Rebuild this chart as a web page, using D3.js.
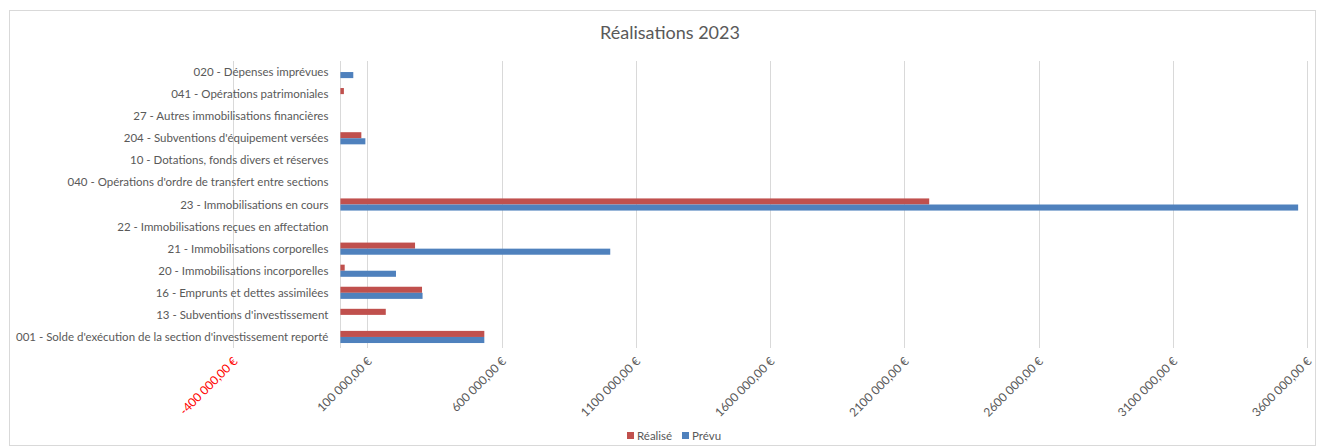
<!DOCTYPE html>
<html>
<head>
<meta charset="utf-8">
<script src="https://cdn.jsdelivr.net/npm/d3@7"></script>
<style>
  body { margin: 0; background: #fff; }
  #chart { width: 1324px; height: 447px; }
  text { font-family: Lato, "Open Sans", sans-serif; }
</style>
</head>
<body>
<div id="chart"></div>
<script>
// categories top to bottom
const categories = [
    "020 - Dépenses imprévues",
    "041 - Opérations patrimoniales",
    "27 - Autres immobilisations financières",
    "204 - Subventions d'équipement versées",
    "10 - Dotations, fonds divers et réserves",
    "040 - Opérations d'ordre de transfert entre sections",
    "23 - Immobilisations en cours",
    "22 - Immobilisations reçues en affectation",
    "21 - Immobilisations corporelles",
    "20 - Immobilisations incorporelles",
    "16 - Emprunts et dettes assimilées",
    "13 - Subventions d'investissement",
    "001 - Solde d'exécution de la section d'investissement reporté"
];
const realise = [0, 13000, 0, 78000, 0, 0, 2193000, 0, 278000, 16000, 304000, 169000, 536000];
const prevu   = [48000, 0, 0, 93000, 0, 0, 3567000, 0, 1005000, 207000, 306000, 0, 536000];
const seriesNames = ["Réalisé", "Prévu"];
const seriesColors = ["#C0504D", "#4F81BD"];
const tickValues = [-400000, 100000, 600000, 1100000, 1600000, 2100000, 2600000, 3100000, 3600000];

const W = 1324, H = 447;
const plot = { left: 233, right: 1307, top: 61, bottom: 348 };

const svg = d3.select('#chart')
    .append('svg')
    .attr('width', W)
    .attr('height', H);

// chart frame
svg.append('rect')
    .attr('x', 9.5).attr('y', 10.5)
    .attr('width', 1306).attr('height', 435)
    .attr('fill', '#fff')
    .attr('stroke', '#d9d9d9');

svg.append('text')
    .attr('x', 670).attr('y', 39)
    .attr('text-anchor', 'middle')
    .attr('font-size', 18)
    .attr('fill', '#595959')
    .text('Réalisations 2023');

const x = d3.scaleLinear()
    .domain([-400000, 3600000])
    .range([plot.left, plot.right]);

const y = d3.scaleBand()
    .domain(categories)
    .range([plot.top, plot.bottom])
    .paddingInner(0.45)
    .paddingOuter(0.225);

const ySub = d3.scaleBand()
    .domain(seriesNames)
    .range([0, y.bandwidth()]);

// gridlines
const grid = svg.append('g')
    .attr('transform', `translate(0,${plot.bottom})`)
    .call(d3.axisBottom(x).tickValues(tickValues).tickSize(-(plot.bottom - plot.top)).tickFormat(''));
grid.select('.domain').remove();
grid.selectAll('line').attr('stroke', '#d9d9d9').attr('shape-rendering', 'crispEdges');

// category axis line at zero
svg.append('line')
    .attr('x1', Math.round(x(0)) + 0.5).attr('x2', Math.round(x(0)) + 0.5)
    .attr('y1', plot.top).attr('y2', plot.bottom)
    .attr('stroke', '#d9d9d9');

// bars
const rows = categories.map((c, i) => ({ cat: c, values: [realise[i], prevu[i]] }));
const groups = svg.append('g')
    .selectAll('g')
    .data(rows)
    .enter()
    .append('g')
    .attr('transform', d => `translate(0,${y(d.cat)})`);

groups.selectAll('rect')
    .data(d => d.values.map((v, k) => ({ v, k })))
    .enter()
    .append('rect')
    .attr('x', d => x(Math.min(0, d.v)))
    .attr('y', d => ySub(seriesNames[d.k]))
    .attr('width', d => Math.abs(x(d.v) - x(0)))
    .attr('height', ySub.bandwidth())
    .attr('fill', d => seriesColors[d.k]);

// category labels
svg.append('g')
    .selectAll('text')
    .data(categories)
    .enter()
    .append('text')
    .attr('x', x(0) - 12)
    .attr('y', d => y(d) + y.bandwidth() / 2)
    .attr('dy', '0.35em')
    .attr('text-anchor', 'end')
    .attr('font-size', 11.5)
    .attr('fill', '#595959')
    .text(d => d);

// value axis labels, e.g. "1100 000,00 €"
const fmt = v => {
    const a = Math.abs(v);
    const th = Math.floor(a / 1000);
    const rest = String(a % 1000).padStart(3, '0');
    return (v < 0 ? '-' : '') + th + ' ' + rest + ',00 €';
};
const axis = svg.append('g')
    .attr('transform', `translate(0,${plot.bottom})`)
    .call(d3.axisBottom(x).tickValues(tickValues).tickSize(0).tickFormat(fmt));
axis.select('.domain').remove();
axis.selectAll('text')
    .attr('font-family', 'Lato, "Open Sans", sans-serif')
    .attr('font-size', 12)
    .attr('fill', d => d < 0 ? '#ff0000' : '#595959')
    .attr('text-anchor', 'end')
    .attr('dy', null)
    .attr('y', 0)
    .attr('transform', 'translate(5,14) rotate(-45)');

// legend
const legend = svg.append('g')
    .attr('transform', 'translate(627,432)');
const items = legend.selectAll('g')
    .data(seriesNames)
    .enter()
    .append('g')
    .attr('transform', (d, i) => `translate(${i * 55},0)`);
items.append('rect')
    .attr('width', 7).attr('height', 7)
    .attr('fill', (d, i) => seriesColors[i]);
items.append('text')
    .attr('x', 10).attr('y', 4)
    .attr('dy', '0.35em')
    .attr('font-size', 11.5)
    .attr('fill', '#595959')
    .text(d => d);
</script>
</body>
</html>
